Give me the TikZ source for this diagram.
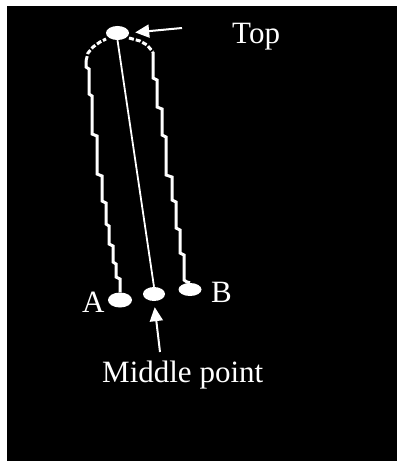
\documentclass[tikz,border=0pt]{standalone}
\usepackage{fontspec}
\setmainfont{Liberation Serif}
\usepackage{tikz}
\usetikzlibrary{arrows.meta,positioning,shapes.geometric}

\begin{document}
\begin{tikzpicture}[x=1pt,y=-1pt,>={Triangle[length=14pt,width=13pt]},
    bob/.style={ellipse,fill=white,draw=none,inner sep=0pt,minimum width=23pt,minimum height=14pt},
    lbl/.style={text=white,inner sep=0pt,anchor=base west,font=\fontsize{31}{36}\selectfont},
    rope/.style={draw=white,line width=3pt,line join=miter},
    arc/.style={rope,dash pattern=on 5pt off 2pt},
    rod/.style={draw=white,line width=1.8pt},
    pointer/.style={draw=white,line width=2pt,->,shorten >=6pt},
  ]
  \useasboundingbox (0,0) rectangle (397,468);
  \fill[white] (0,0) rectangle (397,468);
  \fill[black] (7,6) rectangle (397,461);
  % bobs
  \node[bob] (top) at (117.5,33) {};
  \node[bob,minimum width=24pt,minimum height=15pt] (a) at (120,300) {};
  \node[bob,minimum width=22pt] (mid) at (154,294) {};
  \node[bob,minimum height=13pt] (b) at (190,289.5) {};
  % labels
  \node[lbl] (toplbl) at (232,44) {Top};
  \node[lbl] (albl) at (82,312) {A};
  \node[lbl] (blbl) at (211,302) {B};
  \node[lbl] (midlbl) at (102,382) {Middle point};
  \coordinate (toptail) at (182,28);
  \coordinate (midtail) at (160,352);
  % rope and rod
  \draw[rope] (a.north) -- (120,279) -- (116,277) -- (116,264) -- (113,262) -- (113,246)
    -- (109,244) -- (109,226) -- (106,224) -- (106,203) -- (102,201) -- (102,176)
    -- (97,174) -- (97,136) -- (92,134) -- (92,96) -- (89,94) -- (89,69) -- (86,67) -- (86,61);
  \draw[arc] (86,61) -- (88,53) -- (93,47) -- (100,42) -- (106,39);
  \draw[arc] (129,38) -- (140,41) -- (147,45) -- (153,52);
  \draw[rope] (153,52) -- (153,78) -- (157,80) -- (157,107) -- (162,109) -- (162,135)
    -- (166,137) -- (166,175) -- (172,177) -- (172,200) -- (176,202) -- (176,228)
    -- (180,230) -- (180,253) -- (184,255) -- (184,280) -- (187,282) -- (b.north);
  \draw[rod] (top.south) -- (mid.north);
  % pointers
  \draw[pointer] (toptail) -- (top.east);
  \draw[pointer] (midtail) -- (mid.south);
\end{tikzpicture}
\end{document}
